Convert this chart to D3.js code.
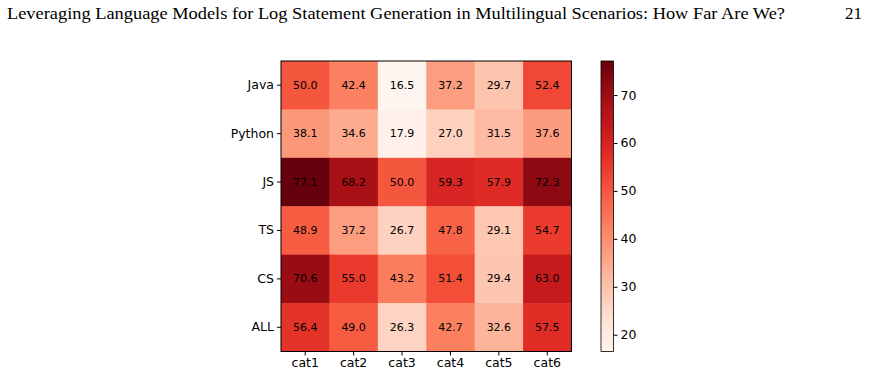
<!doctype html>
<html>
<head>
	<meta charset="utf-8">
	<title>Heatmap</title>
	<script src="https://cdnjs.cloudflare.com/ajax/libs/d3/7.8.5/d3.min.js"></script>
	<style>
		body { margin: 0; background: #fff; }
		text { font-family: "DejaVu Sans", sans-serif; }
	</style>
</head>
<body>
	<script>
		var rows = ['Java', 'Python', 'JS', 'TS', 'CS', 'ALL'];
		var cols = ['cat1', 'cat2', 'cat3', 'cat4', 'cat5', 'cat6'];
		var values = [
			[50.0, 42.4, 16.5, 37.2, 29.7, 52.4],
			[38.1, 34.6, 17.9, 27.0, 31.5, 37.6],
			[77.1, 68.2, 50.0, 59.3, 57.9, 72.3],
			[48.9, 37.2, 26.7, 47.8, 29.1, 54.7],
			[70.6, 55.0, 43.2, 51.4, 29.4, 63.0],
			[56.4, 49.0, 26.3, 42.7, 32.6, 57.5]
		];
		var cbTicks = [20, 30, 40, 50, 60, 70];

		var W = 869, H = 376;
		var svg = d3.select('body').append('svg')
			.attr('width', W)
			.attr('height', H);

		// page header
		svg.append('text')
			.attr('x', 7).attr('y', 19)
			.attr('textLength', 778)
			.attr('lengthAdjust', 'spacingAndGlyphs')
			.style('font-family', '"Liberation Serif", serif')
			.style('font-size', '17px')
			.text('Leveraging Language Models for Log Statement Generation in Multilingual Scenarios: How Far Are We?');
		svg.append('text')
			.attr('x', 862).attr('y', 19)
			.attr('text-anchor', 'end')
			.style('font-family', '"Liberation Serif", serif')
			.style('font-size', '17px')
			.text('21');

		var mLeft = 281, mTop = 61, size = 290.5;
		var all = values.flat();
		var vmin = d3.min(all), vmax = d3.max(all);
		var color = d3.scaleSequential(d3.interpolateReds).domain([vmin, vmax]);

		var x = d3.scaleBand().domain(cols).range([mLeft, mLeft + size]);
		var y = d3.scaleBand().domain(rows).range([mTop, mTop + size]);

		var cells = [];
		values.forEach(function (r, i) {
			r.forEach(function (v, j) {
				cells.push({ row: rows[i], col: cols[j], v: v });
			});
		});

		svg.append('g').selectAll('rect')
			.data(cells)
			.enter()
			.append('rect')
			.attr('x', function (d) { return x(d.col); })
			.attr('y', function (d) { return y(d.row); })
			.attr('width', x.bandwidth() + 0.5)
			.attr('height', y.bandwidth() + 0.5)
			.attr('fill', function (d) { return color(d.v); });

		svg.append('g').selectAll('text')
			.data(cells)
			.enter()
			.append('text')
			.attr('x', function (d) { return x(d.col) + x.bandwidth() / 2; })
			.attr('y', function (d) { return y(d.row) + y.bandwidth() / 2; })
			.attr('text-anchor', 'middle')
			.attr('dominant-baseline', 'central')
			.style('font-size', '11px')
			.attr('fill', '#000')
			.text(function (d) { return d.v.toFixed(1); });

		svg.append('rect')
			.attr('x', mLeft).attr('y', mTop)
			.attr('width', size).attr('height', size)
			.attr('fill', 'none')
			.attr('stroke', '#000')
			.attr('stroke-width', 1);

		var xAxis = svg.append('g')
			.attr('transform', 'translate(0,' + (mTop + size) + ')')
			.call(d3.axisBottom(x).tickSize(4).tickPadding(3));
		var yAxis = svg.append('g')
			.attr('transform', 'translate(' + mLeft + ',0)')
			.call(d3.axisLeft(y).tickSize(4).tickPadding(3));
		[xAxis, yAxis].forEach(function (a) {
			a.select('.domain').remove();
			a.selectAll('text').style('font-size', '12.5px').style('font-family', '"DejaVu Sans", sans-serif').attr('fill', '#000');
		});

		// colorbar
		var cbX = 601, cbW = 12.5;
		var cy = d3.scaleLinear().domain([vmin, vmax]).range([mTop + size, mTop]);
		var defs = svg.append('defs');
		var grad = defs.append('linearGradient')
			.attr('id', 'cbgrad')
			.attr('x1', 0).attr('y1', 1).attr('x2', 0).attr('y2', 0);
		d3.range(0, 1.0001, 0.05).forEach(function (t) {
			grad.append('stop')
				.attr('offset', t)
				.attr('stop-color', color(vmin + t * (vmax - vmin)));
		});
		svg.append('rect')
			.attr('x', cbX).attr('y', mTop)
			.attr('width', cbW).attr('height', size)
			.attr('fill', 'url(#cbgrad)')
			.attr('stroke', '#000')
			.attr('stroke-width', 0.8);
		var cAxis = svg.append('g')
			.attr('transform', 'translate(' + (cbX + cbW) + ',0)')
			.call(d3.axisRight(cy).tickValues(cbTicks).tickSize(4).tickPadding(3));
		cAxis.select('.domain').remove();
		cAxis.selectAll('text').style('font-size', '12.5px').attr('fill', '#000');
	</script>
</body>
</html>
